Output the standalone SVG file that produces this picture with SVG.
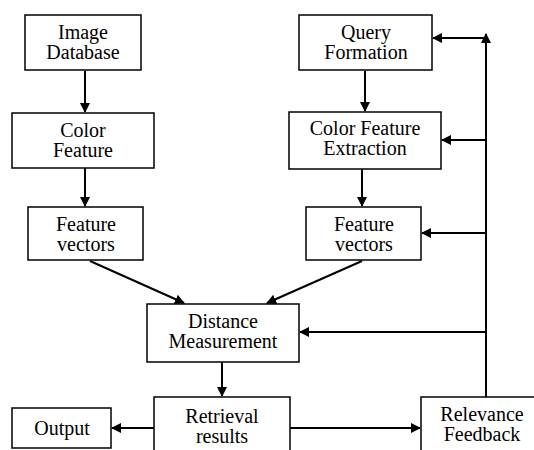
<svg xmlns="http://www.w3.org/2000/svg" width="534" height="450" viewBox="0 0 534 450" font-family="Liberation Serif, serif" font-size="20">
<style>
.box{fill:#fff;stroke:#000;stroke-width:1.5}
.t{fill:#000;text-anchor:middle}
.c{stroke:#000;stroke-width:2;fill:none}
</style>
<defs>
<marker id="ah" markerWidth="10" markerHeight="10" refX="9" refY="5" orient="auto" markerUnits="userSpaceOnUse">
<path d="M0,0 L10,5 L0,10 Z" fill="#000"/>
</marker>
</defs>
<rect width="534" height="450" fill="#fff"/>
<g id="connectors">
<line class="c" x1="85" y1="71" x2="85" y2="112" marker-end="url(#ah)"/>
<line class="c" x1="85" y1="168" x2="85" y2="206" marker-end="url(#ah)"/>
<line class="c" x1="365" y1="71" x2="365" y2="111" marker-end="url(#ah)"/>
<line class="c" x1="362" y1="169" x2="362" y2="206" marker-end="url(#ah)"/>
<line class="c" x1="90" y1="261" x2="184" y2="303" marker-end="url(#ah)"/>
<line class="c" x1="362" y1="261" x2="267" y2="303" marker-end="url(#ah)"/>
<line class="c" x1="222" y1="362" x2="222" y2="396" marker-end="url(#ah)"/>
<line class="c" x1="154" y1="428" x2="112" y2="428" marker-end="url(#ah)"/>
<line class="c" x1="290" y1="428" x2="420" y2="428" marker-end="url(#ah)"/>
<line class="c" x1="486" y1="397" x2="486" y2="34" marker-end="url(#ah)"/>
<line class="c" x1="486" y1="38" x2="433" y2="38" marker-end="url(#ah)"/>
<line class="c" x1="486" y1="140" x2="442" y2="140" marker-end="url(#ah)"/>
<line class="c" x1="486" y1="233" x2="422" y2="233" marker-end="url(#ah)"/>
<line class="c" x1="486" y1="332" x2="300" y2="332" marker-end="url(#ah)"/>
</g>
<g id="image-database"><rect class="box" x="25" y="15" width="116" height="55"/><text class="t" x="83" y="39">Image</text><text class="t" x="83" y="59">Database</text></g>
<g id="color-feature"><rect class="box" x="12" y="113" width="142" height="55"/><text class="t" x="83" y="137">Color</text><text class="t" x="83" y="157">Feature</text></g>
<g id="feature-vectors-left"><rect class="box" x="28" y="207" width="115" height="53"/><text class="t" x="86" y="231">Feature</text><text class="t" x="86" y="251">vectors</text></g>
<g id="query-formation"><rect class="box" x="299" y="15" width="133" height="55"/><text class="t" x="366" y="39">Query</text><text class="t" x="366" y="59">Formation</text></g>
<g id="color-feature-extraction"><rect class="box" x="289" y="112" width="152" height="57"/><text class="t" x="365" y="135">Color Feature</text><text class="t" x="365" y="155">Extraction</text></g>
<g id="feature-vectors-right"><rect class="box" x="306" y="207" width="115" height="53"/><text class="t" x="364" y="231">Feature</text><text class="t" x="364" y="251">vectors</text></g>
<g id="distance-measurement"><rect class="box" x="147" y="304" width="152" height="58"/><text class="t" x="223" y="328">Distance</text><text class="t" x="223" y="348">Measurement</text></g>
<g id="retrieval-results"><rect class="box" x="154" y="397" width="136" height="60"/><text class="t" x="222" y="423">Retrieval</text><text class="t" x="222" y="443">results</text></g>
<g id="output"><rect class="box" x="12" y="408" width="99" height="40"/><text class="t" x="62" y="435">Output</text></g>
<g id="relevance-feedback"><rect class="box" x="421" y="397" width="120" height="60"/><text class="t" x="482" y="421">Relevance</text><text class="t" x="482" y="441">Feedback</text></g>
</svg>
